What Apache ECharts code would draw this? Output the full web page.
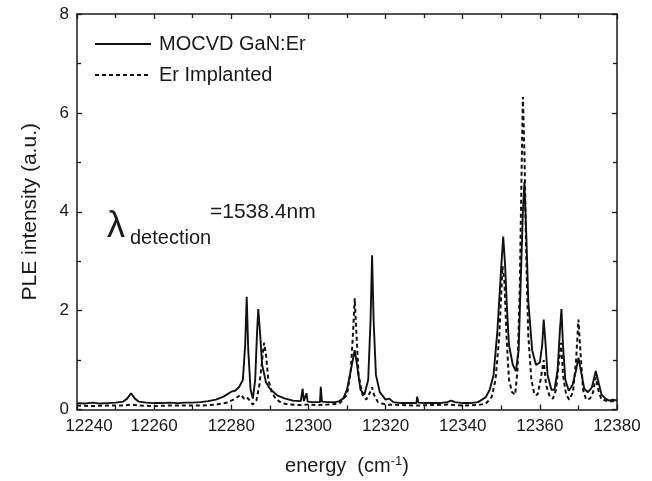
<!DOCTYPE html>
<html>
<head>
<meta charset="utf-8">
<script src="https://cdn.jsdelivr.net/npm/echarts@6/dist/echarts.min.js"></script>
<style>
  html, body { margin: 0; padding: 0; background: #fff; }
  #chart { width: 652px; height: 481px; }
</style>
</head>
<body>
<div id="chart"></div>
<script>
// PLE spectra, detection at 1538.4 nm
const seriesNames = ['MOCVD GaN:Er', 'Er Implanted'];

const mocvdEnergy = [
  12240, 12242, 12244, 12246, 12248, 12250, 12252, 12253, 12254, 12255, 12256, 12258,
  12260, 12262, 12264, 12266, 12268, 12270, 12272, 12274, 12276, 12278, 12280, 12281,
  12282, 12283, 12283.6, 12284, 12284.4, 12285, 12285.6, 12286.2, 12286.7, 12287, 12287.5,
  12288, 12289, 12290, 12291, 12292, 12294, 12296, 12298, 12298.5, 12298.8, 12299.5,
  12299.8, 12301, 12303, 12303.2, 12303.5, 12305, 12307, 12308, 12309, 12310, 12311,
  12312, 12312.6, 12313.5, 12314.5, 12315.5, 12316.1, 12316.5, 12316.9, 12317.5, 12318.5,
  12320, 12321, 12322, 12324, 12326, 12328, 12328.2, 12328.5, 12330, 12332, 12334, 12336,
  12337, 12338, 12340, 12342, 12344, 12346, 12347, 12348, 12349, 12350, 12350.5, 12351,
  12351.5, 12352, 12353, 12353.8, 12354.5, 12355, 12355.6, 12356, 12356.5, 12357, 12358,
  12359, 12360, 12360.6, 12361, 12361.5, 12362, 12363, 12363.8, 12364.6, 12365.2, 12365.6,
  12366, 12366.6, 12367.5, 12368.5, 12369.4, 12370, 12370.6, 12371.5, 12372.5, 12373.5,
  12374.5, 12375.2, 12376, 12377, 12378, 12379, 12380
];
const mocvdIntensity = [
  0.13, 0.12, 0.14, 0.12, 0.13, 0.14, 0.16, 0.22, 0.33, 0.22, 0.16, 0.14,
  0.13, 0.13, 0.14, 0.13, 0.14, 0.14, 0.15, 0.17, 0.20, 0.26, 0.36, 0.38,
  0.45, 0.60, 1.30, 2.28, 1.20, 0.40, 0.22, 0.60, 1.60, 2.03, 1.50,
  0.90, 0.55, 0.42, 0.35, 0.28, 0.22, 0.18, 0.17, 0.42, 0.17, 0.33,
  0.16, 0.15, 0.15, 0.46, 0.16, 0.15, 0.15, 0.17, 0.22, 0.40, 0.80,
  1.20, 0.90, 0.40, 0.30, 0.60, 1.80, 3.12, 1.80, 0.70, 0.35,
  0.20, 0.22, 0.15, 0.13, 0.13, 0.13, 0.26, 0.14, 0.13, 0.13, 0.13, 0.15,
  0.18, 0.15, 0.13, 0.13, 0.15, 0.25, 0.40, 0.70, 1.60, 2.90, 3.50, 2.90,
  2.00, 1.30, 0.90, 0.78, 1.20, 2.50, 4.00, 4.60, 3.50, 2.20, 1.20,
  0.90, 0.95, 1.30, 1.82, 1.30, 0.70, 0.40, 0.40, 0.80, 1.60, 2.03,
  1.30, 0.60, 0.38, 0.50, 0.80, 1.05, 0.80, 0.42, 0.35, 0.45,
  0.78, 0.55, 0.30, 0.22, 0.18, 0.20, 0.18
];

const implEnergy = [
  12240, 12244, 12248, 12252, 12254, 12256, 12260, 12264, 12268, 12272, 12276, 12279,
  12281, 12282.5, 12283.3, 12284, 12284.8, 12285.6, 12286.5, 12287.3, 12288, 12288.5,
  12289, 12289.6, 12290.5, 12291.5, 12293, 12295, 12298, 12300, 12302, 12305, 12308,
  12310, 12311, 12311.6, 12312, 12312.4, 12313, 12314, 12315, 12316, 12316.5, 12317,
  12318, 12320, 12324, 12328, 12332, 12336, 12340, 12344, 12346, 12347.5, 12348.5,
  12349.5, 12350.3, 12350.8, 12351.4, 12352, 12352.8, 12353.6, 12354.2, 12354.8, 12355.3,
  12355.6, 12356, 12356.5, 12357, 12357.8, 12358.6, 12359.4, 12360.2, 12361, 12361.6,
  12362.6, 12363.4, 12364.2, 12365, 12365.5, 12366, 12366.8, 12367.6, 12368.6, 12369.4,
  12370, 12370.5, 12371.2, 12372, 12373, 12373.8, 12374.5, 12375.2, 12376, 12378, 12380
];
const implIntensity = [
  0.08, 0.07, 0.08, 0.08, 0.10, 0.08, 0.07, 0.08, 0.08, 0.08, 0.10, 0.14,
  0.22, 0.30, 0.22, 0.25, 0.18, 0.10, 0.18, 0.50, 1.00, 1.35,
  1.10, 0.60, 0.35, 0.22, 0.13, 0.10, 0.09, 0.10, 0.09, 0.10, 0.12,
  0.30, 0.80, 1.60, 2.25, 1.60, 0.70, 0.30, 0.20, 0.35, 0.45, 0.30,
  0.15, 0.10, 0.09, 0.08, 0.09, 0.10, 0.08, 0.09, 0.12, 0.25, 0.60,
  1.50, 2.90, 2.60, 1.40, 0.60, 0.35, 0.30, 0.80, 2.50, 5.00,
  6.32, 5.20, 3.00, 1.50, 0.60, 0.30, 0.30, 0.60, 1.00, 0.50,
  0.25, 0.22, 0.40, 1.00, 1.35, 0.70, 0.30, 0.20, 0.35, 1.00,
  1.82, 1.20, 0.40, 0.20, 0.22, 0.35, 0.65, 0.38, 0.20, 0.16, 0.18
];

const xMin = 12240, xMax = 12380, xStep = 20;
const yMin = 0, yMax = 8, yStep = 2;

const pair = (xs, ys) => xs.map((x, i) => [x, ys[i]]);
const FONT = '"Liberation Sans", Arial, sans-serif';
const INK = '#1a1a1a';

const tickCommon = {
  axisLine: { show: true, onZero: false, lineStyle: { color: INK, width: 1.5 } },
  axisTick: { show: true, inside: true, length: 5, lineStyle: { color: INK, width: 1.3 } },
  minorTick: { show: true, splitNumber: 2, length: 4, lineStyle: { color: INK, width: 1.3 } },
  splitLine: { show: false },
  minorSplitLine: { show: false }
};

const chart = echarts.init(document.getElementById('chart'));
chart.setOption({
  animation: false,
  backgroundColor: '#ffffff',
  textStyle: { fontFamily: FONT, color: INK },
  grid: { left: 77, top: 14, width: 540, height: 398 },
  legend: {
    orient: 'vertical',
    left: 89,
    top: 29,
    itemWidth: 56,
    itemHeight: 14,
    itemGap: 11,
    itemStyle: { opacity: 0, borderWidth: 0 },
    textStyle: { fontFamily: FONT, fontSize: 20, color: INK, padding: [0, 0, 0, 3] },
    data: seriesNames
  },
  xAxis: [
    Object.assign({
      type: 'value', min: xMin, max: xMax, interval: xStep, position: 'bottom',
      name: 'energy  (cm{sup|-1})',
      nameLocation: 'middle', nameGap: 45,
      nameTextStyle: {
        fontFamily: FONT, fontSize: 20, color: INK,
        rich: { sup: { fontFamily: FONT, fontSize: 13, color: INK, verticalAlign: 'top', padding: [0, 0, 10, 0] } }
      },
      axisLabel: {
        fontFamily: FONT, fontSize: 17, color: INK, margin: 8,
        // the leftmost label sits a little right of its tick, clear of the y-axis "0"
        formatter: v => (v === xMin ? '{first|' + v + '}' : String(v)),
        rich: { first: { fontFamily: FONT, fontSize: 17, color: INK, padding: [0, 0, 0, 24] } }
      }
    }, tickCommon),
    Object.assign({
      type: 'value', min: xMin, max: xMax, interval: xStep, position: 'top',
      axisLabel: { show: false }
    }, tickCommon)
  ],
  yAxis: [
    Object.assign({
      type: 'value', min: yMin, max: yMax, interval: yStep, position: 'left',
      name: 'PLE intensity (a.u.)',
      nameLocation: 'middle', nameGap: 36,
      nameTextStyle: { fontFamily: FONT, fontSize: 21, color: INK },
      axisLabel: { fontFamily: FONT, fontSize: 17, color: INK, margin: 8 }
    }, tickCommon),
    Object.assign({
      type: 'value', min: yMin, max: yMax, interval: yStep, position: 'right',
      axisLabel: { show: false }
    }, tickCommon)
  ],
  graphic: [
    { type: 'text', left: 107, top: 209,
      style: { text: 'λ', font: '36px ' + FONT, fill: INK } },
    { type: 'text', left: 130, top: 228,
      style: { text: 'detection', font: '20px ' + FONT, fill: INK } },
    { type: 'text', left: 210, top: 202,
      style: { text: '=1538.4nm', font: '21px ' + FONT, fill: INK } }
  ],
  series: [
    {
      name: seriesNames[0], type: 'line', xAxisIndex: 0, yAxisIndex: 0,
      data: pair(mocvdEnergy, mocvdIntensity),
      symbol: 'none', showSymbol: false, smooth: false, z: 3,
      lineStyle: { color: '#111', width: 1.9, type: 'solid' },
      itemStyle: { color: '#111' }
    },
    {
      name: seriesNames[1], type: 'line', xAxisIndex: 0, yAxisIndex: 0,
      data: pair(implEnergy, implIntensity),
      symbol: 'none', showSymbol: false, smooth: false, z: 2,
      lineStyle: { color: '#111', width: 2, type: [4, 3] },
      itemStyle: { color: '#111' }
    }
  ]
});
</script>
</body>
</html>
